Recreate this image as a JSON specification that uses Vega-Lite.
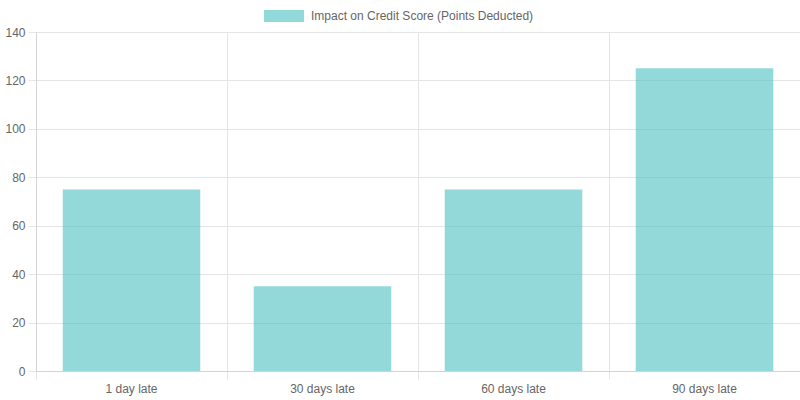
{
  "$schema": "https://vega.github.io/schema/vega-lite/v6.json",
  "width": 764,
  "height": 339,
  "padding": {"left": 36, "top": 32, "right": 0, "bottom": 29},
  "autosize": {"type": "none"},
  "background": "white",
  "config": {
    "view": {"stroke": null},
    "font": "Liberation Sans",
    "axis": {
      "labelFont": "Liberation Sans",
      "labelFontSize": 12,
      "labelColor": "#666666",
      "gridColor": "#e5e5e5",
      "tickColor": "#e5e5e5",
      "domainColor": "#d4d4d4",
      "tickSize": 8,
      "title": null
    }
  },
  "data": {
    "values": [
      {"category": "1 day late", "points": 75},
      {"category": "30 days late", "points": 35},
      {"category": "60 days late", "points": 75},
      {"category": "90 days late", "points": 125}
    ]
  },
  "mark": {"type": "bar", "width": {"band": 0.72}, "opacity": 0.6},
  "encoding": {
    "x": {
      "field": "category",
      "type": "nominal",
      "sort": null,
      "scale": {"paddingInner": 0, "paddingOuter": 0},
      "axis": {"labelAngle": 0, "bandPosition": 0, "grid": true, "labelPadding": 4, "labelBaseline": "top"}
    },
    "y": {
      "field": "points",
      "type": "quantitative",
      "scale": {"domain": [0, 140], "nice": false},
      "axis": {"values": [0, 20, 40, 60, 80, 100, 120, 140], "grid": true, "labelPadding": 3}
    },
    "color": {
      "datum": "Impact on Credit Score (Points Deducted)",
      "type": "nominal",
      "scale": {"range": ["rgb(75,192,192)"]},
      "legend": {
        "title": null,
        "orient": "none",
        "legendX": 228,
        "legendY": -36,
        "symbolType": "M-1,-0.3H1V0.3H-1Z",
        "symbolSize": 1600,
        "symbolOpacity": 0.6,
        "symbolStrokeWidth": 0,
        "labelFont": "Liberation Sans",
        "labelFontSize": 12,
        "labelColor": "#666666",
        "labelOffset": 7,
        "labelLimit": 400
      }
    }
  }
}
